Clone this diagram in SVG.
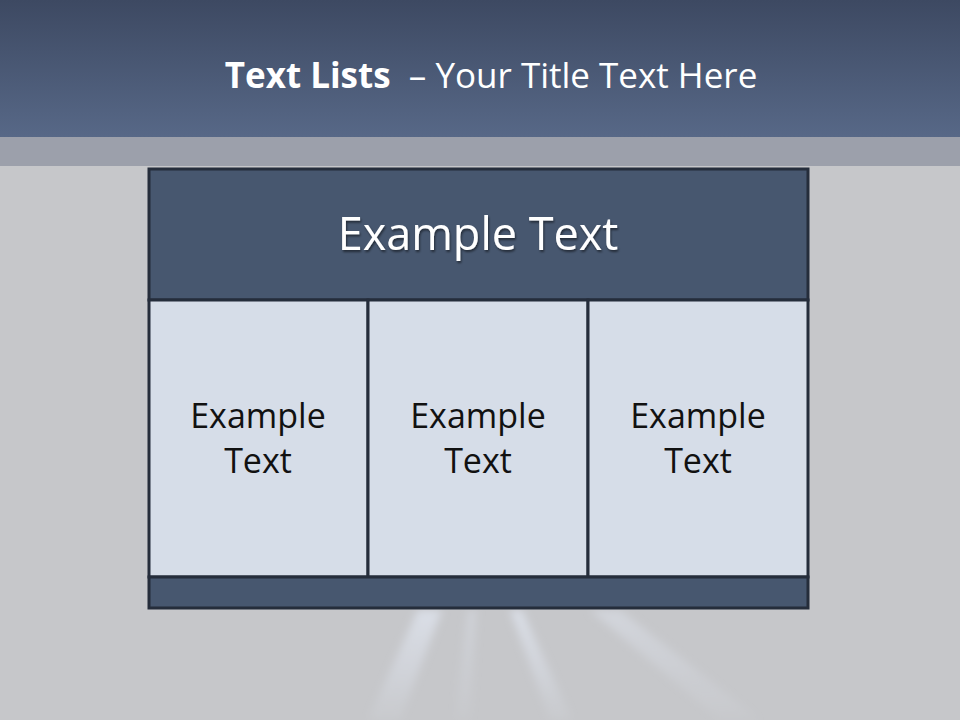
<svg xmlns="http://www.w3.org/2000/svg" width="960" height="720" viewBox="0 0 960 720">
<defs>
<linearGradient id="hdr" x1="0" y1="0" x2="0" y2="1">
<stop offset="0" stop-color="#3d4962"/>
<stop offset="1" stop-color="#576887"/>
</linearGradient>
<linearGradient id="ray" x1="0" y1="0" x2="0" y2="1">
<stop offset="0" stop-color="#dfe4ee" stop-opacity="0.8"/>
<stop offset="1" stop-color="#dfe4ee" stop-opacity="0.1"/>
</linearGradient>
<filter id="blur" x="-50%" y="-50%" width="200%" height="200%"><feGaussianBlur stdDeviation="4"/></filter>
<filter id="sh" x="-10%" y="-10%" width="120%" height="130%"><feDropShadow dx="1" dy="2" stdDeviation="1" flood-color="#000" flood-opacity="0.5"/></filter>
</defs>
<style>
.cell{fill:#d6dde8;stroke:#252d3b;stroke-width:3}
.dark{fill:#47576f;stroke:#252d3b;stroke-width:3}
.t{font-family:"Open Sans","Noto Sans",sans-serif;text-anchor:middle}
.body{font-size:34px;fill:#111}
</style>
<rect width="960" height="720" fill="#c6c7ca"/>
<g filter="url(#blur)" fill="url(#ray)">
<polygon points="418,610 442,610 400,720 368,720"/>
<polygon points="510,610 522,610 572,720 550,720"/>
<polygon points="590,610 620,610 760,720 720,720" opacity="0.6"/>
<polygon points="468,610 476,610 470,720 455,720" opacity="0.5"/>
</g>
<rect width="960" height="137" fill="url(#hdr)"/>
<rect y="137" width="960" height="29" fill="#9ca0ab"/>
<text x="491" y="88" class="t" font-size="35" fill="#fff"><tspan font-weight="bold">Text Lists</tspan><tspan xml:space="preserve">  – Your Title Text Here</tspan></text>
<g id="header">
<rect x="149" y="169" width="659" height="131" class="dark"/>
<text x="478" y="250" class="t" font-size="45" fill="#fff" filter="url(#sh)">Example Text</text>
</g>
<g id="cell1">
<rect x="149" y="300" width="219" height="277" class="cell"/>
<text x="258" y="428" class="t body">Example</text>
<text x="258" y="473" class="t body">Text</text>
</g>
<g id="cell2">
<rect x="368" y="300" width="220" height="277" class="cell"/>
<text x="478" y="428" class="t body">Example</text>
<text x="478" y="473" class="t body">Text</text>
</g>
<g id="cell3">
<rect x="588" y="300" width="220" height="277" class="cell"/>
<text x="698" y="428" class="t body">Example</text>
<text x="698" y="473" class="t body">Text</text>
</g>
<g id="footer">
<rect x="149" y="577" width="659" height="31" class="dark"/>
</g>
<g id="connectors"/>
</svg>
